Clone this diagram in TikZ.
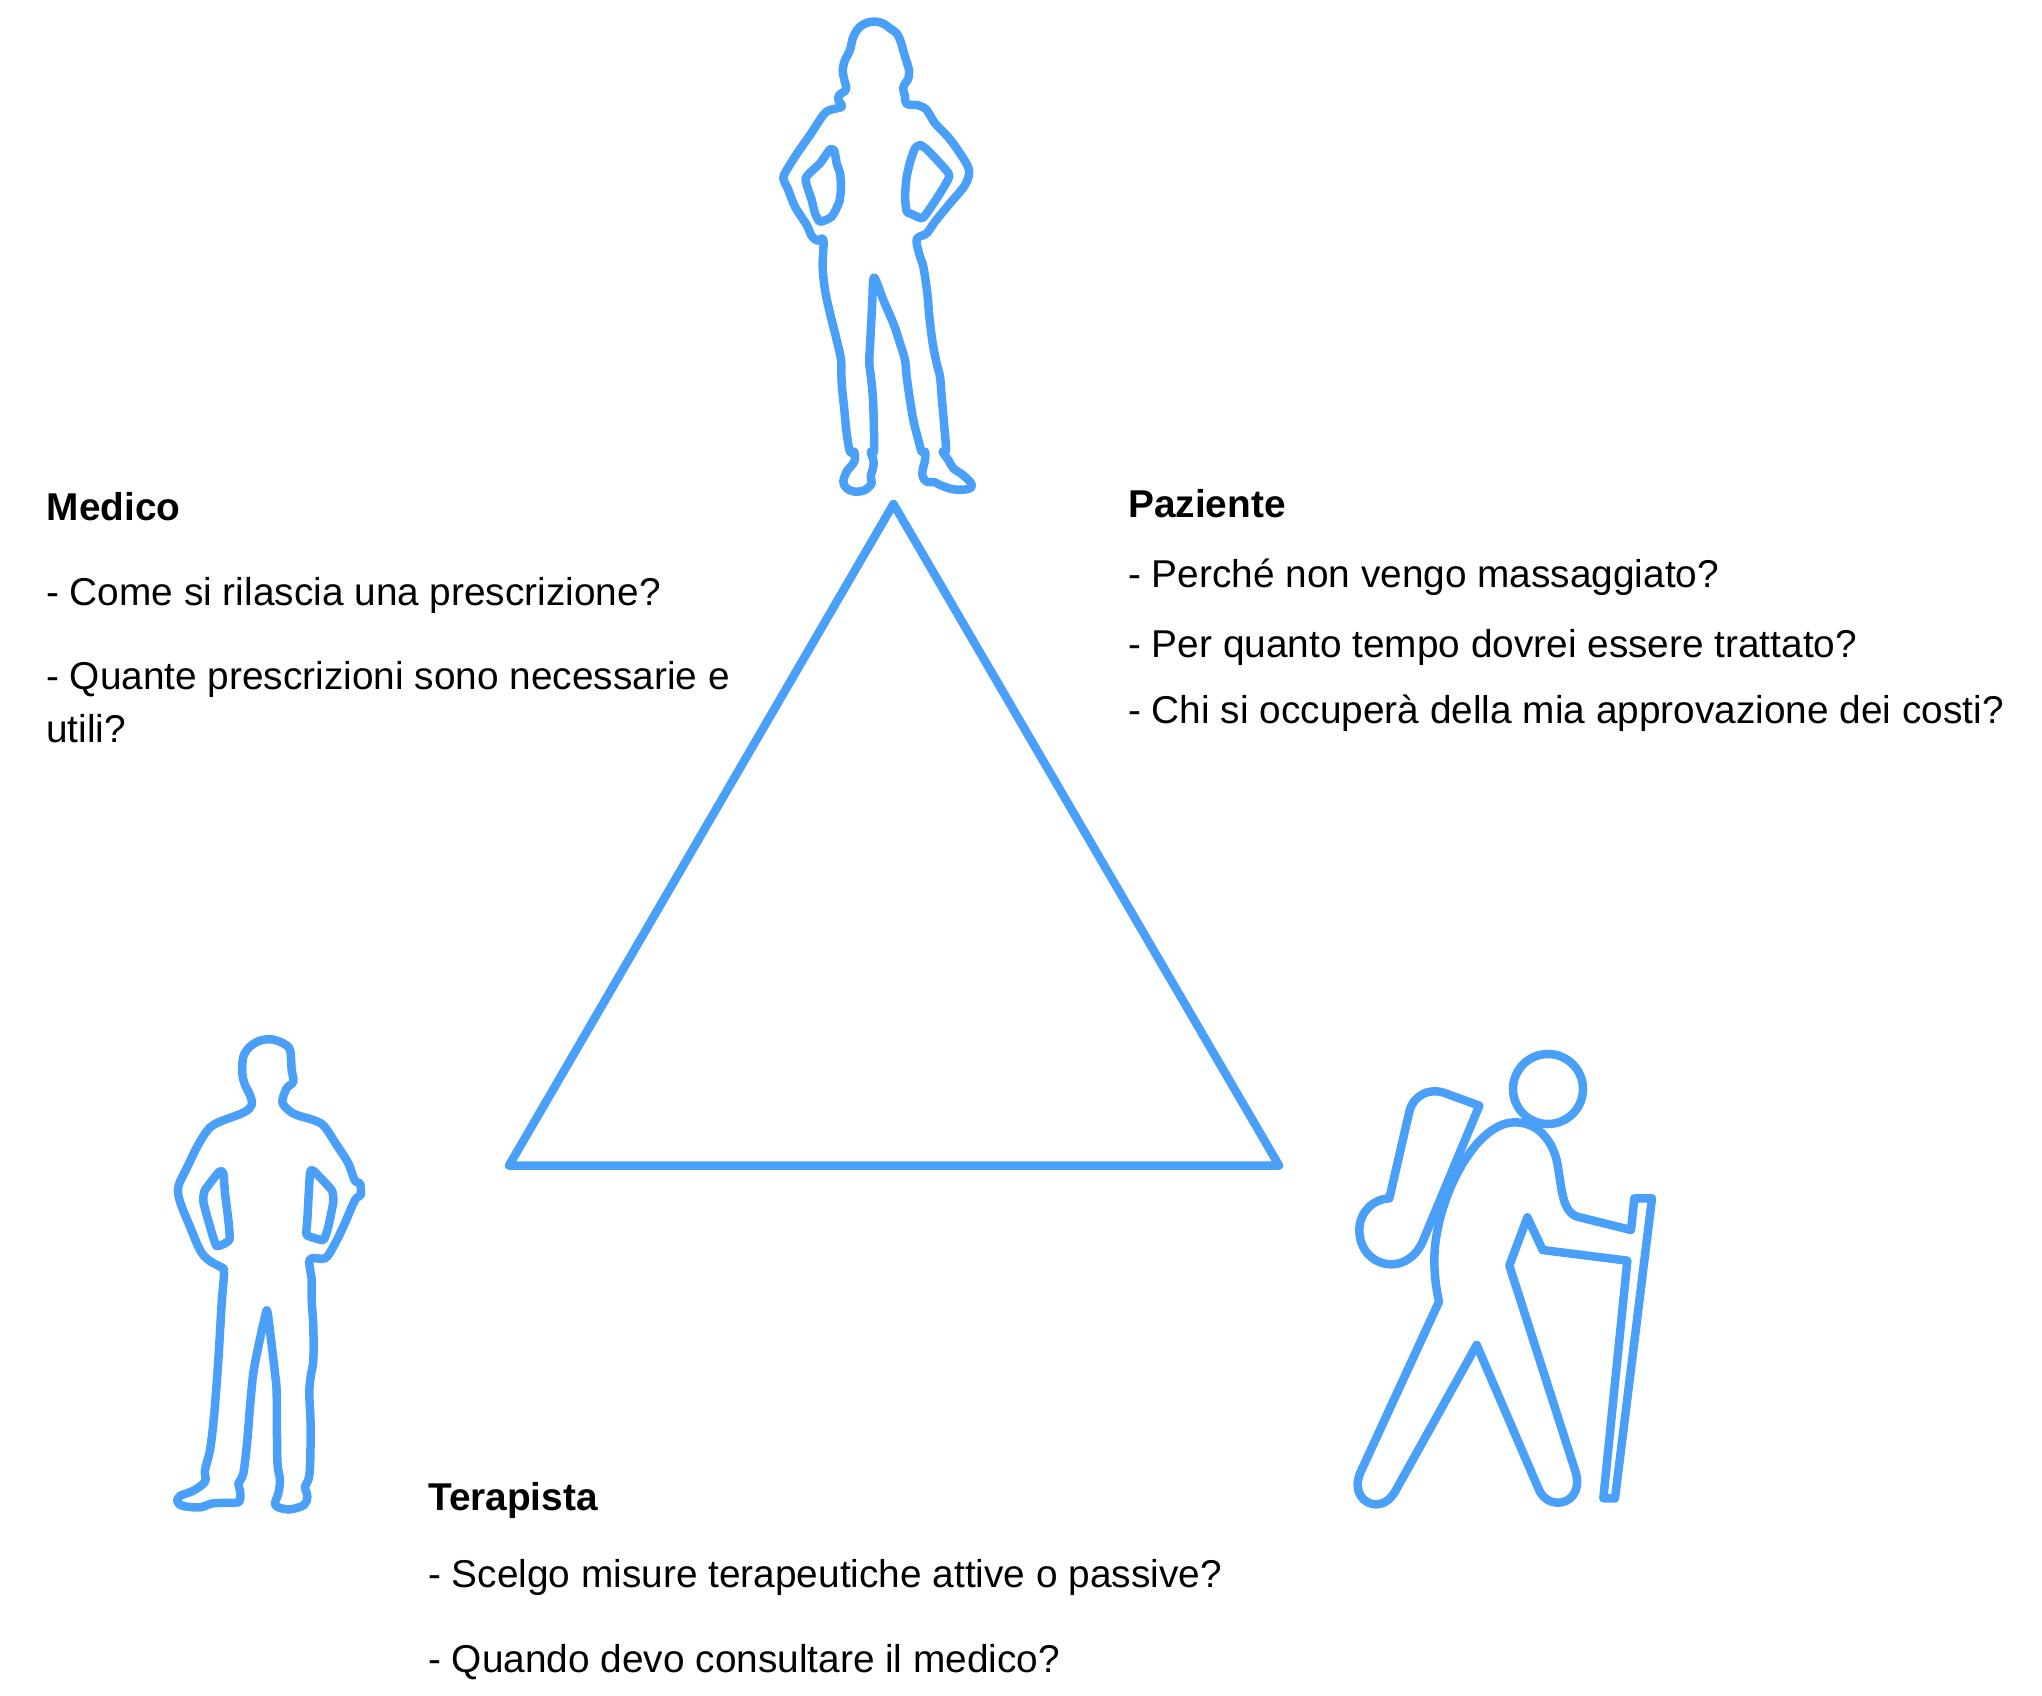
\documentclass[tikz,border=0pt]{standalone}
\usepackage{fontspec}
\setmainfont{Liberation Sans}
\definecolor{figblue}{HTML}{4AA0F8}
\tikzset{
  outline/.style={draw=figblue,line width=8.5pt,line join=round,line cap=round},
  zoomed/.style={x=0.33333pt,y=-0.33333pt},
  label/.style={anchor=base west,inner sep=0pt,font=\fontsize{38.8}{46}\selectfont,text=black},
  heading/.style={label,font=\fontsize{38.8}{46}\selectfont\bfseries}
}
\begin{document}
\begin{tikzpicture}[x=1pt,y=-1pt]
\useasboundingbox (0,0) rectangle (2042,1696);
% triangle
\coordinate (apex) at (893.5,504);
\coordinate (baseL) at (509,1165.5);
\coordinate (baseR) at (1279,1165.5);
\draw[outline] (apex) -- (baseR) -- (baseL) -- cycle;
% woman
\begin{scope}[zoomed,shift={(740pt,0pt)}]
\draw[outline] plot[smooth cycle,tension=0.55] coordinates {
(305,320)(295,300)(298,285)(318,268)(312,235)(308,210)(315,180)(330,150)(340,110)(360,80)(385,67)(410,65)(432,72)(450,85)(470,100)(482,125)(495,170)(507,210)(505,235)(490,262)(495,290)(500,312)(535,316)(560,330)(585,370)(625,412)(660,460)(687,510)(675,555)(630,610)(585,665)(560,700)(530,718)
(540,770)(550,800)(562,880)(568,950)(578,1030)(590,1090)(600,1130)(605,1190)(612,1270)(618,1350)(608,1355)(625,1380)(640,1405)(665,1422)(690,1445)(695,1460)(680,1468)(640,1468)(600,1455)(585,1447)(560,1445)(548,1430)(548,1410)(555,1380)(555,1355)(545,1355)(535,1320)(520,1260)(510,1200)(500,1130)(495,1080)(480,1030)(460,970)(430,900)(408,842)(400,838)
(397,900)(393,980)(390,1040)(388,1090)(395,1150)(400,1220)(402,1350)(392,1355)(400,1380)(400,1400)(392,1430)(395,1450)(375,1470)(345,1475)(320,1465)(310,1445)(320,1415)(340,1390)(345,1375)(342,1355)(330,1355)(320,1300)(312,1220)(305,1150)(303,1080)(290,1020)(270,940)(255,870)(248,800)(250,720)
(232,722)(215,708)(200,675)(165,620)(145,570)(130,535)(140,510)(175,455)(210,405)(250,345)(270,330)};
\draw[outline] plot[smooth cycle,tension=0.35] coordinates {(240,665)(275,650)(298,605)(303,560)(300,520)(290,490)(283,452)(270,448)(240,490)(197,535)(215,600)(225,640)};
\draw[outline] plot[smooth cycle,tension=0.35] coordinates {(540,435)(525,445)(512,480)(500,530)(495,590)(500,635)(510,640)(545,655)(560,640)(600,580)(628,527)(600,490)(560,448)};
\end{scope}
% man
\begin{scope}[zoomed,shift={(150pt,-1020pt)}]
\draw[outline] plot[smooth cycle,tension=0.55] coordinates {
(305,255)(300,225)(285,195)(277,160)(280,110)(300,80)(330,62)(365,58)(400,70)(420,90)(425,150)(430,185)(410,205)(397,245)(415,270)(440,285)(490,300)(522,318)(560,375)(595,430)(615,483)(630,490)(632,525)(615,540)(580,620)(550,680)(525,715)(480,718)
(485,780)(485,840)(490,920)(490,1020)(482,1070)(478,1120)(482,1220)(480,1340)(475,1380)(465,1400)(472,1430)(462,1455)(420,1468)(385,1462)(375,1450)(385,1420)(390,1380)(382,1320)(380,1120)(375,1060)(362,950)(352,875)
(345,890)(325,980)(310,1060)(300,1160)(292,1260)(280,1360)(265,1390)(270,1410)(270,1440)(258,1448)(190,1450)(150,1462)(100,1458)(82,1445)(90,1428)(130,1412)(165,1385)(165,1350)(180,1290)(192,1190)(205,1020)(215,850)(222,755)
(210,740)(175,720)(150,690)(120,620)(90,545)(85,500)(110,445)(150,365)(190,315)(280,278)};
\draw[outline] plot[smooth cycle,tension=0.3] coordinates {(200,678)(238,660)(235,600)(225,520)(220,460)(208,455)(165,510)(160,545)(180,620)};
\draw[outline] plot[smooth cycle,tension=0.25] coordinates {(470,645)(520,660)(535,620)(550,545)(545,510)(490,452)(480,460)(472,600)};
\end{scope}
% hiker
\begin{scope}[zoomed,shift={(1340pt,-1030pt)}]
\coordinate (hc) at (624,177);
\draw[outline] (hc) circle[radius=35pt];
\draw[outline] (148,505) -- (208,245) .. controls (220,195) and (270,170) .. (322,192) -- (418,227) -- (250,630) .. controls (232,675) and (195,703) .. (155,703) .. controls (100,703) and (58,660) .. (58,600) .. controls (58,550) and (95,508) .. (148,505) -- cycle;
\draw[outline] (297,815) .. controls (285,760) and (283,720) .. (283,690) .. controls (283,520) and (400,277) .. (525,277) .. controls (600,277) and (640,340) .. (652,400) .. controls (665,470) and (665,545) .. (712,560) -- (873,600) -- (883,505) -- (936,505) -- (825,1405) -- (790,1405) -- (862,692) -- (608,660) -- (562,562) -- (508,707) -- (708,1330) .. controls (722,1385) and (690,1418) .. (655,1418) .. controls (625,1418) and (605,1400) .. (595,1375) -- (410,945) -- (165,1385) .. controls (150,1410) and (130,1423) .. (110,1423) .. controls (65,1423) and (40,1380) .. (60,1330) -- cycle;
\end{scope}
% text
\node[heading] (medH) at (46.5,520) {Medico};
\node[label] (med1) at (46,605) {- Come si rilascia una prescrizione?};
\node[label] (med2) at (46,689) {- Quante prescrizioni sono necessarie e};
\node[label] (med3) at (46,742) {utili?};
\node[heading] (pazH) at (1128,517) {Paziente};
\node[label] (paz1) at (1128,587) {- Perché non vengo massaggiato?};
\node[label] (paz2) at (1128,657) {- Per quanto tempo dovrei essere trattato?};
\node[label] (paz3) at (1128,723) {- Chi si occuperà della mia approvazione dei costi?};
\node[heading] (terH) at (428,1510) {Terapista};
\node[label] (ter1) at (428,1587) {- Scelgo misure terapeutiche attive o passive?};
\node[label] (ter2) at (428,1672) {- Quando devo consultare il medico?};
\end{tikzpicture}
\end{document}
